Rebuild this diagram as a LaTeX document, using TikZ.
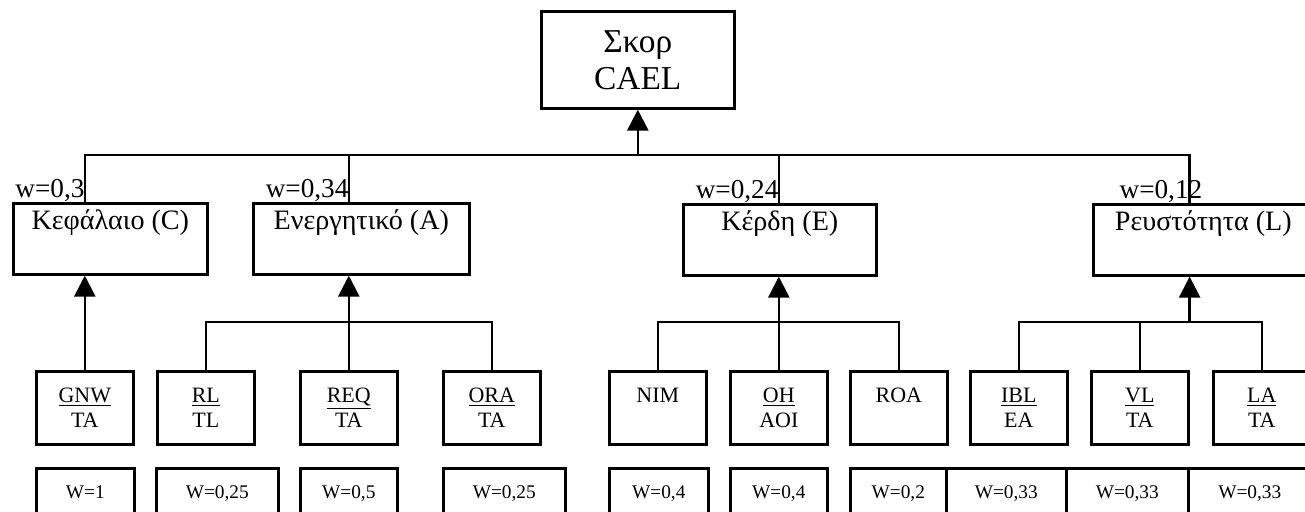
\documentclass[tikz,border=0pt]{standalone}
\usepackage{fontspec}
\setmainfont{Liberation Serif}
\usetikzlibrary{arrows.meta}

\tikzset{
    kasten/.style={draw, line width=1.5pt, anchor=north west, inner xsep=0pt},
    gruppe/.style={kasten, font=\fontsize{16}{19}\selectfont, text height=11pt, text depth=22pt, inner ysep=3.7pt},
    quote/.style={kasten, font=\fontsize{12.5}{14}\selectfont, align=center, minimum width=1.94cm, minimum height=1.46cm, inner ysep=0pt},
    gewicht/.style={kasten, font=\fontsize{11}{12}\selectfont, text height=8pt, text depth=30pt, inner ysep=9pt},
    wlabel/.style={anchor=south east, inner sep=0pt, font=\fontsize{15.5}{18}\selectfont},
    linie/.style={line width=1.4pt},
    pfeil/.style={linie, -{Triangle[length=12pt, width=12pt]}}
}

\begin{document}
\begin{tikzpicture}[x=0.02cm, y=-0.02cm]
    \useasboundingbox (0,0) rectangle (1305,511);
    \clip (0,0) rectangle (1305,511);

    % oberste Ebene
    \path node[kasten, align=center, minimum width=3.86cm, minimum height=1.94cm, font=\fontsize{19}{21}\selectfont] (score) at (540,10) {Σκορ\\CAEL};

    % Gruppen
    \path node[gruppe, minimum width=3.88cm] (cap) at (12,202) {Κεφάλαιο (C)}
        node[gruppe, minimum width=4.32cm] (ast) at (252,202) {Ενεργητικό (A)}
        node[gruppe, minimum width=3.86cm] (ern) at (682,203) {Κέρδη (E)}
        node[gruppe, minimum width=4.4cm] (liq) at (1092,203) {Ρευστότητα (L)};

    % Kennzahlen
    \path node[quote] (gnw) at (35,370) {\underline{GNW}\\TA}
        node[quote] (rl) at (156,370) {\underline{RL}\\TL}
        node[quote] (req) at (299,370) {\underline{REQ}\\TA}
        node[quote] (ora) at (442,370) {\underline{ORA}\\TA}
        node[quote] (nim) at (608,370) {NIM\\{}}
        node[quote] (oh) at (729,370) {\underline{OH}\\AOI}
        node[quote] (roa) at (849,370) {ROA\\{}}
        node[quote] (ibl) at (969,370) {\underline{IBL}\\EA}
        node[quote] (vl) at (1090,370) {\underline{VL}\\TA}
        node[quote] (la) at (1212,370) {\underline{LA}\\TA};

    % Gewichte
    \path node[gewicht, minimum width=1.96cm] (wgnw) at (35,467) {W=1}
        node[gewicht, minimum width=2.44cm] (wrl) at (155,467) {W=0,25}
        node[gewicht, minimum width=1.94cm] (wreq) at (299,467) {W=0,5}
        node[gewicht, minimum width=2.44cm] (wora) at (442,467) {W=0,25}
        node[gewicht, minimum width=1.98cm] (wnim) at (608,467) {W=0,4}
        node[gewicht, minimum width=1.94cm] (woh) at (729,467) {W=0,4}
        node[gewicht, minimum width=1.92cm] (wroa) at (849,467) {W=0,2}
        node[gewicht, minimum width=2.40cm] (wibl) at (945,467) {W=0,33}
        node[gewicht, minimum width=2.44cm] (wvl) at (1065,467) {W=0,33}
        node[gewicht, minimum width=2.46cm] (wla) at (1187,467) {W=0,33};

    \coordinate (oben) at (0,155);
    \coordinate (mitte) at (0,322);

    % Gruppen -> Score
    \draw[linie] (cap.north -| gnw) |- (oben -| score) -| (liq.north -| vl.east);
    \draw[linie] (oben -| req) -- (ast.north -| req);
    \draw[linie] (oben -| oh) -- (ern.north -| oh);
    \draw[pfeil] (oben -| score) -- (score.south);

    \node[wlabel] (wcap) at (cap.north -| gnw) {w=0,3};
    \node[wlabel] (wast) at (ast.north -| req) {w=0,34};
    \node[wlabel] (wern) at (ern.north -| oh) {w=0,24};
    \node[wlabel, xshift=0.26cm] (wliq) at (liq.north -| vl.east) {w=0,12};

    % Kennzahlen -> Gruppen
    \draw[pfeil] (gnw.north) -- (cap.south -| gnw);
    \draw[linie] (rl.north) |- (mitte -| ora) -- (ora.north);
    \draw[pfeil] (req.north) -- (ast.south -| req);
    \draw[linie] (nim.north) |- (mitte -| roa) -- (roa.north);
    \draw[pfeil] (oh.north) -- (ern.south -| oh);
    \draw[linie] (ibl.north) |- (mitte -| la) -- (la.north);
    \draw[linie] (vl.north) -- (mitte -| vl);
    \draw[pfeil] (mitte -| vl.east) -- (liq.south -| vl.east);
\end{tikzpicture}
\end{document}
